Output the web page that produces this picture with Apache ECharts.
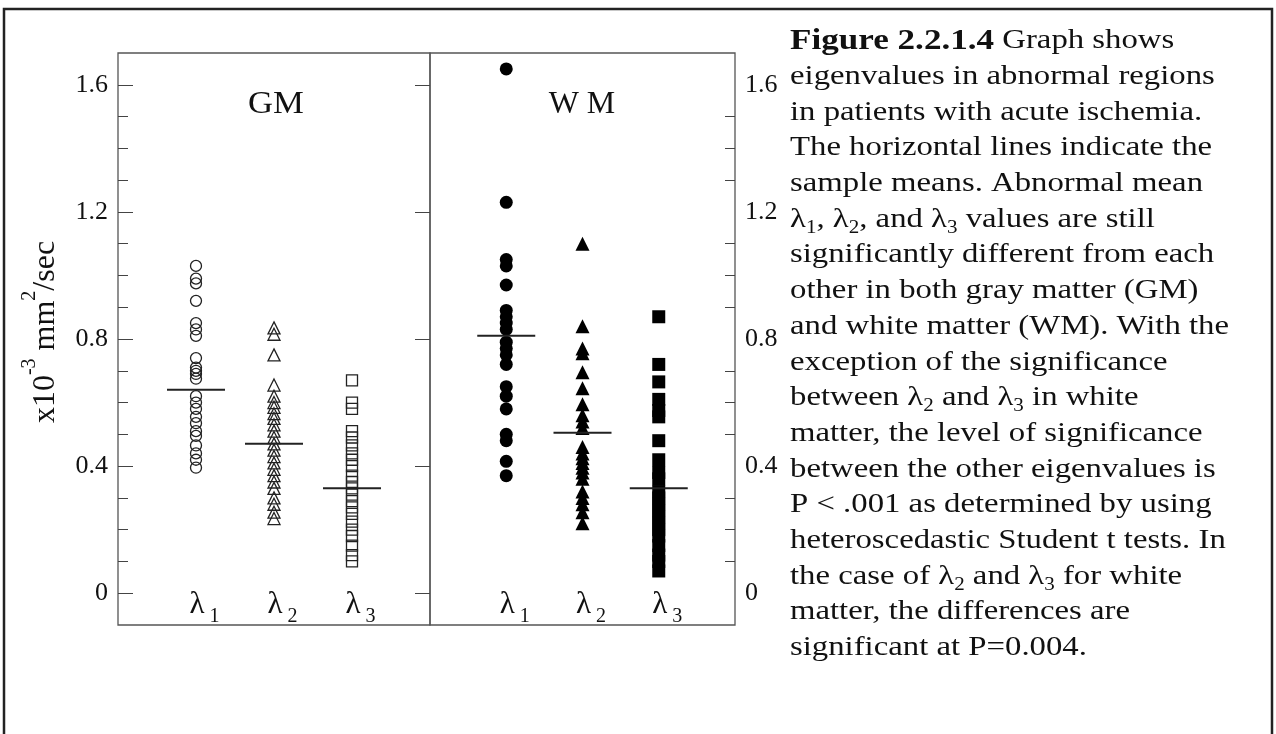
<!DOCTYPE html>
<html><head><meta charset="utf-8">
<script src="https://cdn.jsdelivr.net/npm/echarts@6/dist/echarts.min.js"></script>
<style>html,body{margin:0;padding:0;background:#fff}#c{width:1276px;height:734px}</style>
</head><body><div id="c"></div>
<script>
// ---- data ----
const categories = ['1', '2', '3'];            // λ subscripts
const panels = ['GM', 'W M'];
const yTicks = [0, 0.4, 0.8, 1.2, 1.6];
const yMinorTicks = [0.1, 0.2, 0.3, 0.5, 0.6, 0.7, 0.9, 1.0, 1.1, 1.3, 1.4, 1.5];
const gmL1 = [1.03, 0.99, 0.975, 0.92, 0.85, 0.83, 0.81, 0.74, 0.71, 0.70, 0.69, 0.675, 0.62, 0.60, 0.58, 0.555, 0.535, 0.51, 0.495, 0.465, 0.44, 0.42, 0.395];
const gmL2 = [0.835, 0.815, 0.75, 0.655, 0.62, 0.60, 0.585, 0.565, 0.55, 0.53, 0.51, 0.49, 0.47, 0.45, 0.43, 0.41, 0.39, 0.37, 0.35, 0.33, 0.30, 0.28, 0.255, 0.235];
const gmL3 = [0.67, 0.60, 0.58, 0.51, 0.49, 0.465, 0.44, 0.42, 0.40, 0.37, 0.35, 0.33, 0.31, 0.29, 0.27, 0.25, 0.225, 0.20, 0.18, 0.15, 0.12, 0.10];
const wmL1 = [1.65, 1.23, 1.05, 1.03, 0.97, 0.89, 0.87, 0.85, 0.83, 0.79, 0.77, 0.75, 0.72, 0.65, 0.62, 0.58, 0.50, 0.48, 0.415, 0.37];
const wmL2 = [1.10, 0.84, 0.77, 0.755, 0.695, 0.645, 0.595, 0.56, 0.54, 0.52, 0.46, 0.44, 0.425, 0.41, 0.395, 0.38, 0.36, 0.32, 0.30, 0.28, 0.255, 0.22];
const wmL3 = [0.87, 0.72, 0.665, 0.61, 0.575, 0.555, 0.48, 0.42, 0.38, 0.36, 0.32, 0.30, 0.28, 0.26, 0.24, 0.22, 0.20, 0.18, 0.15, 0.12, 0.10, 0.07];
const gmMeans = [0.64, 0.47, 0.33];
const wmMeans = [0.81, 0.505, 0.33];

const captionLines = [
  '{b|Figure 2.2.1.4} Graph shows',
  'eigenvalues in abnormal regions',
  'in patients with acute ischemia.',
  'The horizontal lines indicate the',
  'sample means. Abnormal mean',
  'λ{s|1}, λ{s|2}, and λ{s|3} values are still',
  'significantly different from each',
  'other in both gray matter (GM)',
  'and white matter (WM). With the',
  'exception of the significance',
  'between λ{s|2} and λ{s|3} in white',
  'matter, the level of significance',
  'between the other eigenvalues is',
  'P < .001 as determined by using',
  'heteroscedastic Student t tests. In',
  'the case of λ{s|2} and λ{s|3} for white',
  'matter, the differences are',
  'significant at P=0.004.'
];

// ---- chart ----
const SERIF = '"Liberation Serif", "Times New Roman", serif';
const gmData = [gmL1, gmL2, gmL3];
const wmData = [wmL1, wmL2, wmL3];
const symbols = ['circle', 'triangle', 'rect'];
const symSizes = [11, 12, 11];

const series = [];
[gmData, wmData].forEach((panel, p) => {
  panel.forEach((vals, i) => {
    series.push({
      type: 'scatter', xAxisIndex: p, yAxisIndex: p * 2,
      symbol: symbols[i], symbolSize: p === 0 ? symSizes[i] : symSizes[i] + 2,
      itemStyle: p === 0
        ? { color: 'rgba(255,255,255,0)', borderColor: '#222', borderWidth: 1.3, opacity: 1 }
        : { color: '#000', borderColor: '#000', borderWidth: 0, opacity: 1 },
      data: vals.map(v => [i + 1, v]),
      silent: true, z: 3
    });
  });
  const means = p === 0 ? gmMeans : wmMeans;
  series.push({
    type: 'scatter', xAxisIndex: p, yAxisIndex: p * 2,
    symbol: 'rect', symbolSize: [58, 2],
    itemStyle: { color: '#222', opacity: 1 },
    data: means.map((m, i) => [i + 1, m]),
    silent: true, z: 4
  });
});

const xAxes = panels.map((_, p) => ({
  type: 'value', gridIndex: p, min: 0, max: 4,
  axisLine: { show: false }, axisTick: { show: false }, splitLine: { show: false },
  axisLabel: {
    inside: true, margin: -2,
    customValues: [1, 2, 3],
    formatter: v => '{l|λ}{s|' + categories[v - 1] + '}',
    rich: {
      l: { fontFamily: SERIF, fontSize: 31, color: '#111', lineHeight: 38, verticalAlign: 'top', padding: [0, 0, 0, 17] },
      s: { fontFamily: SERIF, fontSize: 20, color: '#111', lineHeight: 24, verticalAlign: 'bottom', padding: [0, 0, 0, 5] }
    }
  }
}));

const yAxes = [];
[0, 1].forEach(p => {
  const pos = p === 0 ? 'left' : 'right';
  yAxes.push({
    type: 'value', gridIndex: p, position: pos, min: -0.1, max: 1.7,
    axisLine: { show: false }, splitLine: { show: false },
    axisTick: { show: true, inside: true, length: 15, customValues: yTicks, lineStyle: { color: '#444', width: 1 } },
    axisLabel: { show: true, margin: 10, customValues: yTicks, formatter: v => String(Math.round(v * 10) / 10),
      fontFamily: SERIF, fontSize: 26, color: '#111' },
    name: p === 0 ? '{t|x10}{u|-3}{t| mm}{u|2}{t|/sec}' : '',
    nameLocation: 'middle', nameRotate: 90, nameGap: 56,
    nameTextStyle: {
      padding: [0, 0, 0, 14],
      rich: {
        t: { fontFamily: SERIF, fontSize: 32, color: '#111', lineHeight: 42, verticalAlign: 'bottom' },
        u: { fontFamily: SERIF, fontSize: 20, color: '#111', lineHeight: 42, verticalAlign: 'top' }
      }
    }
  });
  yAxes.push({
    type: 'value', gridIndex: p, position: pos, min: -0.1, max: 1.7,
    axisLine: { show: false }, splitLine: { show: false },
    axisTick: { show: true, inside: true, length: 10, customValues: yMinorTicks, lineStyle: { color: '#444', width: 1 } },
    axisLabel: { show: false }
  });
});

const graphics = [
  { type: 'rect', shape: { x: 4, y: 9, width: 1268, height: 800 },
    style: { fill: 'none', stroke: '#222', lineWidth: 2.5 }, silent: true },
  { type: 'text', x: 276, y: 105, scaleX: 1.12,
    style: { text: panels[0], font: '31px ' + SERIF, fill: '#111', align: 'center', verticalAlign: 'middle' } },
  { type: 'text', x: 582, y: 105, scaleX: 1.03,
    style: { text: panels[1], font: '31px ' + SERIF, fill: '#111', align: 'center', verticalAlign: 'middle' } },
  { type: 'text', x: 790, y: 23, scaleX: 1.17,
    style: {
      text: captionLines.join('\n'), font: '28px ' + SERIF, fill: '#111',
      align: 'left', verticalAlign: 'top', lineHeight: 35.7,
      rich: {
        b: { fontFamily: SERIF, fontSize: 30, fontWeight: 'bold', fill: '#111', lineHeight: 35.7 },
        s: { fontFamily: SERIF, fontSize: 18, fill: '#111', lineHeight: 18, verticalAlign: 'bottom' }
      }
    } }
];

const chart = echarts.init(document.getElementById('c'), null, { renderer: 'canvas' });
chart.setOption({
  animation: false,
  backgroundColor: '#fff',
  grid: [
    { left: 118, top: 53, width: 312, height: 572, show: true, borderColor: '#555', borderWidth: 1.3, containLabel: false },
    { left: 430, top: 53, width: 305, height: 572, show: true, borderColor: '#555', borderWidth: 1.3, containLabel: false }
  ],
  xAxis: xAxes,
  yAxis: yAxes,
  series: series,
  graphic: graphics
});
</script>
</body></html>
